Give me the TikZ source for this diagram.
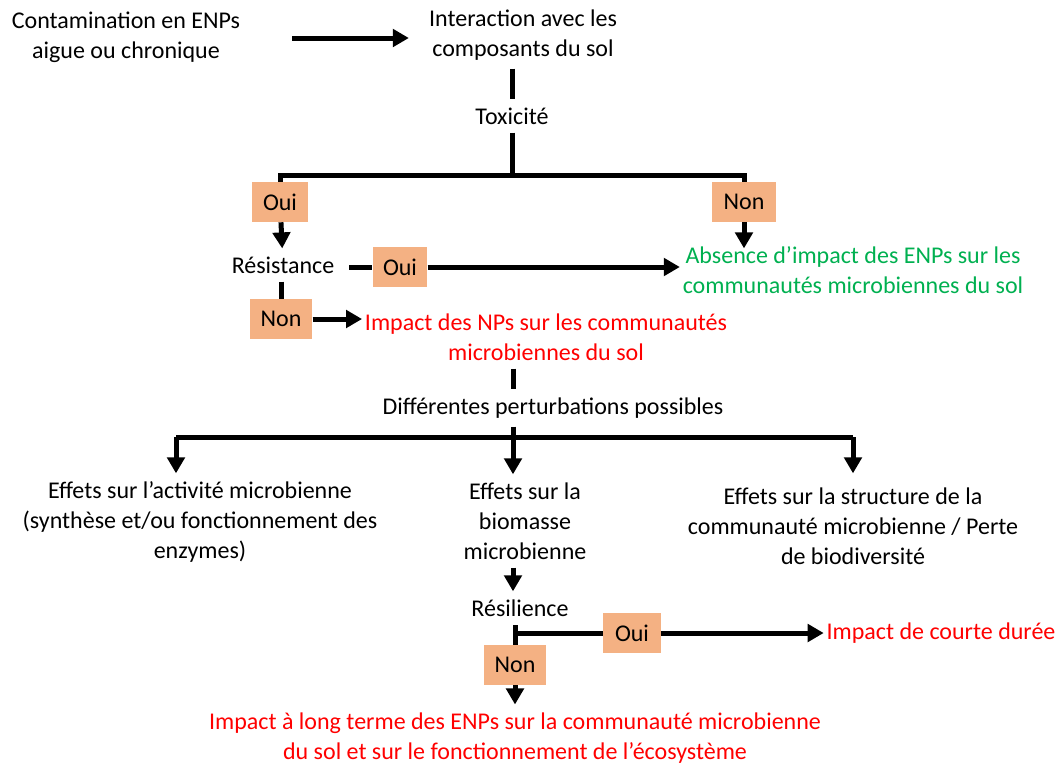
\documentclass[tikz,border=0pt]{standalone}
\usepackage{fontspec}
\setmainfont{Carlito}
\usepackage{xcolor}
\usepackage{tikz}
\usetikzlibrary{arrows.meta}

\definecolor{boxfill}{HTML}{F4B183}
\definecolor{okgreen}{HTML}{00B050}
\definecolor{badred}{HTML}{FF0000}

\tikzset{
    txt/.style={align=center, inner xsep=2pt, inner ysep=6pt},
    answer/.style={fill=boxfill, minimum height=30pt, inner sep=0pt},
    line/.style={line width=3.75pt},
    arrow/.style={line width=3.75pt, -{Triangle[length=12pt, width=13pt]}}
}

\begin{document}
\begin{tikzpicture}[x=0.75pt, y=-0.75pt, font=\fontsize{18pt}{22.5pt}\selectfont]
        \useasboundingbox (0,0) rectangle (1059,765);
        \node[txt] (cont)   at (126, 37) {Contamination en ENPs\\aigue ou chronique};
        \node[txt] (inter)  at (523, 35) {Interaction avec les\\composants du sol};
        \node[txt] (tox)    at (512,116) {Toxicité};
        \node[answer, minimum width=42pt] (oui1) at (280,202) {Oui};
        \node[answer, minimum width=48pt] (non1) at (744,202) {Non};
        \node[txt] (resist) at (283,265) {Résistance};
        \node[answer, minimum width=41pt] (oui2) at (400,267) {Oui};
        \node[answer, minimum width=47pt] (non2) at (281,319) {Non};
        \node[txt, text=okgreen] (absence) at (853,270)
            {Absence d’impact des ENPs sur les\\communautés microbiennes du sol};
        \node[txt, text=badred] (impact) at (546,337)
            {Impact des NPs sur les communautés\\microbiennes du sol};
        \node[txt] (diff)   at (553,408) {Différentes perturbations possibles};
        \node[txt] (eff1)   at (200,522) {Effets sur l’activité microbienne\\(synthèse et/ou fonctionnement des\\enzymes)};
        \node[txt] (eff2)   at (525,521) {Effets sur la\\biomasse\\microbienne};
        \node[txt] (eff3)   at (853,526) {Effets sur la structure de la\\communauté microbienne / Perte\\de biodiversité};
        \node[txt] (resil)  at (520,608) {Résilience};
        \node[answer, minimum width=43pt] (oui3) at (632,633) {Oui};
        \node[answer, minimum width=47pt] (non3) at (515,665) {Non};
        \node[txt, text=badred] (court) at (941,633) {Impact de courte durée};
        \node[txt, text=badred] (long)  at (515,738)
            {Impact à long terme des ENPs sur la communauté microbienne\\du sol et sur le fonctionnement de l’écosystème};
        % first part
        \coordinate (fork) at (512,175);
        \draw[arrow, shorten <=37pt, shorten >=13pt] (cont.east |- 0,38) -- (inter.west |- 0,38);
        \draw[line] (inter.south -| tox) -- (tox);
        \draw[line] (tox) -- (fork);
        \draw[line] (oui1.north) -- (oui1.north |- fork) -- (non1.north |- fork) -- (non1.north);
        \draw[arrow] (oui1) -- (resist);
        \draw[arrow] (non1) -- (non1 |- resist.north);
        \draw[line, shorten <=9pt] (resist.east |- oui2) -- (oui2);
        \draw[arrow] (oui2) -- (absence.west |- oui2);
        \draw[line] (resist.south -| non2) -- (non2);
        \draw[arrow] (non2) -- (impact.west |- non2);
        % perturbations
        \coordinate (split) at (513,437);
        \coordinate (split-left) at (176,437);
        \coordinate (split-right) at (853,437);
        \draw[line] (impact.south -| split) -- (diff.north -| split);
        \draw[line] (diff.south -| split) -- (split);
        \draw[line] (split-left) -- (split-right);
        \draw[arrow] (split-left) -- (split-left |- eff1.north);
        \draw[arrow] (split) -- (split |- eff2.north);
        \draw[arrow] (split-right) -- (split-right |- eff1.north);
        \draw[arrow] (eff2.south -| split) -- (resil.north -| split);
        % resilience
        \coordinate (knee) at (515,625);
        \draw[line] (knee) -- (non3);
        \draw[line] (knee |- oui3) -- (oui3);
        \draw[arrow] (oui3) -- (court);
        \draw[arrow] (non3) -- (long);
    \end{tikzpicture}
\end{document}
